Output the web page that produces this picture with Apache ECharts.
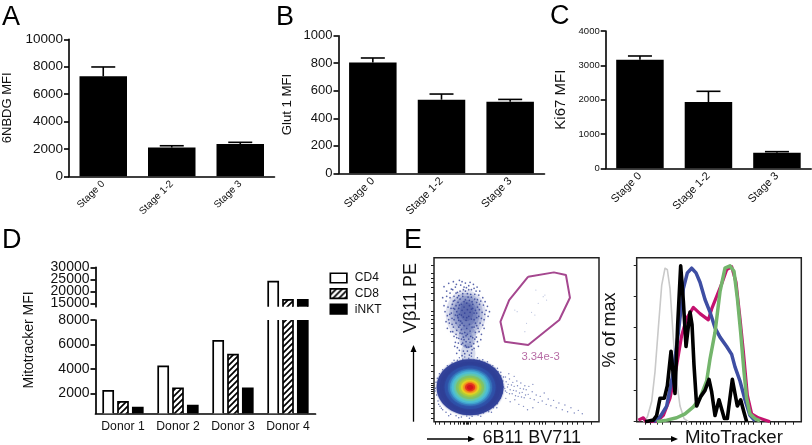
<!DOCTYPE html>
<html><head><meta charset="utf-8">
<style>html,body{margin:0;padding:0;background:#fff}#c{width:812px;height:445px}</style>
<script src="https://cdn.jsdelivr.net/npm/echarts@6/dist/echarts.min.js"></script>
</head><body><div id="c"></div>
<script>
// ---------- data ----------
var stages = ['Stage 0','Stage 1-2','Stage 3'];
var nbdgMean = [7300,2100,2350];
var nbdgUpper = [7980,2230,2480];
var glutMean = [806,535,520];
var glutUpper = [838,576,537];
var ki67Mean = [3165,1932,456];
var ki67Upper = [3272,2243,485];

var donors = ['Donor 1','Donor 2','Donor 3','Donor 4'];
var cd4 = [2190,4210,6290,24000];
var cd8 = [1290,2410,5160,16400];
var inkt = [820,1000,2410,16400];
var mitoLowTicks = [2000,4000,6000,8000];
var mitoHighTicks = [15000,20000,25000,30000];
var mitoHighLabelsA = [15000,25000];
var mitoHighLabelsB = [20000,30000];

// flow plot (channels on both axes)
var gate = [[282,435],[359,448],[395,440],[407,372],[375,305],[282,230],[212,240],[199,300],[225,365],[282,435]];
var gateLabel = [[319,195,'3.34e-3']];
var gateDots = [[332,380],[312,355],[302,320],[277,295],[242,335],[272,270],[327,375],[292,328],[249,330],[337,365],[305,395]];
var densityRings = [
 [108,103,100,84,'#33439a'],[108,103,90,76,'#2f3f96'],[108,103,76,65,'#2f50a8'],[108,103,66,56,'#3570b8'],
 [108,103,60,51,'#3f9ccd'],[108,103,55,47,'#4cbcd6'],[108,103,48,41,'#62c8ae'],[108,103,42,35,'#7fc26a'],[108,103,34,28,'#a8ca3c'],
 [108,103,27,22,'#e3d625'],[108,103,21,17,'#f49c20'],[108,103,15,12,'#e63a1e'],[108,103,9,7,'#d4141c']];
var cloudHaze = [
 [95,322,60,72,'rgba(70,90,170,0.16)'],[96,324,50,62,'rgba(60,80,165,0.2)'],[97,325,40,52,'rgba(55,75,160,0.24)'],[98,325,30,40,'rgba(50,70,155,0.26)'],[98,330,20,28,'rgba(45,60,150,0.28)'],
 [100,255,26,34,'rgba(60,80,165,0.24)'],[100,245,18,26,'rgba(60,80,165,0.22)'],[102,205,22,30,'rgba(70,90,170,0.2)']];
var cloudDots = [[30,405],[38,392],[44,415],[52,398],[48,372],[36,362],[58,420],[64,404],[70,388],[60,376],[55,352],[42,344],[33,330],[47,322],[62,338],[72,358],[80,410],[88,396],[76,424],[94,416],[104,408],[112,396],[100,384],[118,412],[126,392],[134,380],[122,368],[140,362],[148,350],[156,334],[144,328],[130,344],[116,352],[162,316],[150,306],[138,296],[128,312],[120,326],[112,338],[36,300],[46,296],[54,310],[64,320],[74,304],[58,284],[68,274],[78,290],[84,264],[74,250],[64,238],[70,222],[82,232],[90,246],[98,224],[108,238],[116,252],[124,268],[132,280],[120,284],[108,272],[96,258],[142,262],[150,280],[130,240],[114,216],[88,212],[60,256],[50,270],[40,280],[100,212],[26,372],[30,348],[40,318],[51,340],[56,396],[67,412],[84,420],[97,402],[108,418],[120,400],[129,404],[137,392],[146,372],[153,360],[160,346],[152,322],[166,330],[142,310],[135,270],[127,254],[119,234],[104,224],[76,214],[66,262],[54,292],[44,306],[70,318],[58,362],[48,386],[38,376],[128,358],[136,336],[146,290],[124,296],[73,236],[82,248],[92,204],[106,200],[112,206],[84,198],[120,220],[68,205],[62,226],[133,226],[140,246],
[66,348],[74,340],[82,352],[90,344],[98,356],[106,348],[114,360],[78,368],[86,376],[94,366],[102,374],[110,382],[70,372],[62,364],[68,330],[76,322],[84,334],[92,326],[100,336],[108,328],[116,340],[124,334],[72,312],[80,302],[88,314],[96,304],[104,316],[112,308],[120,306],[66,296],[74,284],[82,276],[90,288],[98,280],[106,292],[114,284],[92,268],[100,262],[110,256],[88,254],[78,266],[68,252],[96,240],[104,248],[86,236],[94,228],[112,226],[122,248],[78,392],[86,384],[94,392],[104,396],[90,404],[112,374],[122,382],[130,366],[136,352],[74,378],[66,386],[58,340],[52,326],[60,306],[128,326],[134,316],[128,288],[56,270],[82,320],[90,360],[98,312],[106,364],[76,350],[84,296]];
var rimDots = [[6,118],[4,100],[8,80],[3,92],[12,62],[18,46],[26,36],[36,28],[50,22],[66,18],[82,14],[98,17],[114,16],[132,20],[148,26],[164,30],[178,42],[190,54],[198,70],[204,86],[208,104],[206,122],[200,138],[192,150],[182,160],[168,170],[152,178],[136,184],[120,186],[104,190],[86,187],[70,184],[54,176],[40,168],[26,156],[16,144],[10,130],[92,194],[112,196],[76,192],[130,192],[60,184],[146,186],[160,180],[176,168],[190,160],[200,148],[208,134],[14,52],[22,40],[44,18],[74,12],[106,10],[140,16],[172,28],[188,42]];
var tailDots = [[212,100],[218,88],[222,112],[228,96],[234,84],[240,106],[246,92],[252,76],[258,100],[264,88],[270,72],[276,96],[282,82],[288,70],[294,90],[300,66],[306,80],[312,58],[318,76],[324,62],[330,86],[336,52],[342,68],[350,48],[358,64],[366,42],[374,56],[384,36],[392,50],[400,30],[410,42],[420,26],[432,34],[444,24],[216,120],[226,128],[236,118],[248,122],[260,116],[272,108],[284,106],[296,112],[215,70],[228,60],[242,66],[254,52],[268,46],[280,36],[296,42],[214,134],[224,144],[240,136],[214,92],[220,104],[226,84],[232,110],[238,94],[244,78],[250,108],[256,86],[262,74],[268,98],[274,80]];
var flowXTicks = [5,15,30,50,62,72,80,88,92,96,100,104,108,125,150,170,190,207,240,265,285,300,315,325,334,360,385,400,415,430,447,470];
var flowYTicks = [10,25,40,55,70,85,92,98,104,110,116,130,150,170,205,240,262,280,295,308,320,332,365,385,402,418,430,445,470];

// histogram overlays (channel, % of max)
var histGray = [[20,0],[32,3],[45,13],[55,32],[65,60],[75,87],[85,98],[92,97],[100,85],[110,53],[120,26],[130,10],[142,2],[155,0]];
var histMagenta = [[5,1],[20,2.5],[28,0],[60,0],[80,4],[100,15],[120,36],[135,55],[150,66],[170,73],[190,69],[215,65],[225,72],[240,80],[255,88],[270,97],[285,99],[298,89],[310,66],[320,45],[332,17],[345,5],[365,2.5],[400,0]];
var histBlue = [[50,0],[70,3],[90,10],[110,32],[125,57],[140,85],[152,95],[165,98],[178,95],[190,89],[205,78],[220,70],[235,60],[250,54],[270,48],[285,43],[295,35],[310,26],[325,14],[340,4],[355,0.5]];
var histGreen = [[60,0],[90,1],[120,2.5],[145,5],[170,9.5],[190,15],[210,26],[220,40],[235,57],[250,83],[265,98],[280,99.5],[292,96],[302,79],[312,57],[322,32],[330,15],[340,5],[355,2],[370,0.5]];
var histBlack = [[25,0],[50,1],[60,4],[70,15],[83,15],[92,23],[103,45],[115,18],[123,62],[132,99.5],[140,77],[148,48],[160,70],[166,62],[172,36],[180,10],[192,16],[205,20],[217,27],[225,19],[235,4],[247,14],[263,2],[272,2],[287,27],[302,10],[312,14],[322,6],[330,0]];
var histXTicks = [25,42,62,78,100,135,150,165,178,190,200,208,220,255,280,300,313,324,335,350,375,400,412,425,447,470];
var histYTicks = [0,20,40,60,80,100];

// ---------- helpers ----------
var FONT = '"Liberation Sans", Arial, sans-serif';
var INK = '#111';
function plain(v){ return String(v); }

var hatch = (function(){
  var s = 6, cv = document.createElement('canvas'); cv.width = s; cv.height = s;
  var g = cv.getContext('2d');
  g.fillStyle = '#fff'; g.fillRect(0,0,s,s);
  g.strokeStyle = '#000'; g.lineWidth = 1.7;
  g.beginPath();
  g.moveTo(-1,1); g.lineTo(1,-1);
  g.moveTo(-1,s+1); g.lineTo(s+1,-1);
  g.moveTo(s-1,s+1); g.lineTo(s+1,s-1);
  g.stroke();
  return {image: cv, repeat: 'repeat'};
})();

var grids = [], xAxes = [], yAxes = [], series = [], titles = [];

function errorSeries(idx, upper, means){
  series.push({
    type:'custom', xAxisIndex:idx, yAxisIndex:idx, silent:true, z:5,
    data: upper.map(function(u,i){ return [i, means[i], u]; }),
    encode:{x:0,y:[1,2]},
    renderItem:function(p,api){
      var a = api.coord([api.value(0), api.value(1)]), b = api.coord([api.value(0), api.value(2)]);
      var st = {stroke:'#000', lineWidth:1.6};
      return {type:'group', children:[
        {type:'line', shape:{x1:a[0],y1:a[1],x2:b[0],y2:b[1]}, style:st},
        {type:'line', shape:{x1:b[0]-12,y1:b[1],x2:b[0]+12,y2:b[1]}, style:st}
      ]};
    }
  });
}

function barPanel(cfg){
  var idx = grids.length;
  grids.push({left:cfg.left, top:cfg.top, width:cfg.width, height:cfg.height, containLabel:false});
  xAxes.push({gridIndex:idx, type:'category', data:stages,
    axisLine:{lineStyle:{color:'#000',width:1.6}},
    axisTick:{alignWithLabel:true,length:4.5,lineStyle:{color:'#000',width:1.6}},
    axisLabel:{rotate:45,fontFamily:FONT,fontSize:cfg.xFont,color:INK,margin:6,interval:0}});
  yAxes.push({gridIndex:idx, type:'value', min:0, max:cfg.max, interval:cfg.interval,
    name:cfg.name, nameLocation:'middle', nameGap:cfg.nameGap, nameRotate:90,
    nameTextStyle:{fontFamily:FONT,fontSize:cfg.nameFont,color:INK},
    splitLine:{show:false},
    axisLine:{show:true,lineStyle:{color:'#000',width:1.6}},
    axisTick:{show:true,length:5,lineStyle:{color:'#000',width:1.6}},
    axisLabel:{fontFamily:FONT,fontSize:cfg.yFont,color:INK,margin:6,formatter:plain}});
  series.push({type:'bar', xAxisIndex:idx, yAxisIndex:idx, data:cfg.means, barWidth:47.5,
    itemStyle:{color:'#000'}, silent:true});
  errorSeries(idx, cfg.upper, cfg.means);
}

barPanel({left:68.5,top:39.3,width:206,height:137,max:10000,interval:2000,means:nbdgMean,upper:nbdgUpper,name:'6NBDG MFI',nameGap:55,nameFont:13,yFont:13.5,xFont:10});
barPanel({left:338.5,top:35.7,width:206,height:137.6,max:1000,interval:200,means:glutMean,upper:glutUpper,name:'Glut 1 MFI',nameGap:45,nameFont:13.2,yFont:13,xFont:11});
barPanel({left:605.7,top:31,width:205.5,height:137.3,max:4000,interval:1000,means:ki67Mean,upper:ki67Upper,name:'Ki67 MFI',nameGap:37,nameFont:15,yFont:9.5,xFont:11});

// ----- panel D: split y axis, one grid per segment -----
var BAND_OFFSET = 14.8;
function donorBars(name, values, pos, fill, gi, axisMin, axisMax){
  series.push({
    type:'custom', name:name, xAxisIndex:gi, yAxisIndex:gi, silent:true,
    itemStyle:{color:fill, borderColor:'#000', borderWidth:1.7},
    data: values.map(function(v,i){ return [i,v]; }),
    encode:{x:0,y:1},
    renderItem:function(p,api){
      var val = api.value(1);
      if (val <= axisMin) return null;
      var c = api.coord([api.value(0), val]);
      var base = api.coord([api.value(0), axisMin])[1];
      var top = Math.max(c[1], p.coordSys.y);
      var clipped = val > axisMax;
      var x0 = c[0] + pos*BAND_OFFSET - 5, x1 = x0 + 10;
      var st = {fill:null,stroke:'#000',lineWidth:1.7};
      var kids = [{type:'rect', shape:{x:x0,y:top,width:10,height:base-top}, style:{fill:fill}}];
      if (clipped) {
        kids.push({type:'polyline', shape:{points:[[x0,top],[x0,base]]}, style:st});
        kids.push({type:'polyline', shape:{points:[[x1,top],[x1,base]]}, style:st});
      } else {
        kids.push({type:'polyline', shape:{points:[[x0,base],[x0,top],[x1,top],[x1,base]]}, style:st});
      }
      return {type:'group', children:kids};
    }
  });
}
function donorLabels(ticks){
  return {fontFamily:FONT,fontSize:14,color:INK,margin:6,customValues:ticks,hideOverlap:false,showMinLabel:true,showMaxLabel:true,formatter:plain};
}
function donorAxes(top, height, min, max, ticks, labels, showX){
  var gi = grids.length;
  grids.push({left:95.5, top:top, width:220, height:height});
  xAxes.push({gridIndex:gi, type:'category', data:donors, show:showX,
    axisLine:{lineStyle:{color:'#000',width:1.7}},
    axisTick:{alignWithLabel:true,length:4,lineStyle:{color:'#000',width:1.7}},
    axisLabel:{fontFamily:FONT,fontSize:12.2,color:INK,margin:7,interval:0}});
  yAxes.push({gridIndex:gi, type:'value', min:min, max:max, splitLine:{show:false},
    axisLine:{show:true,lineStyle:{color:'#000',width:1.7}},
    axisTick:{show:true,length:5,customValues:ticks,lineStyle:{color:'#000',width:1.7}},
    axisLabel:donorLabels(labels)});
  return gi;
}
var giHigh = donorAxes(267.3, 39.4, 13600, 30000, mitoHighTicks, mitoHighLabelsA, false);
var giLow = donorAxes(320, 93.3, 360, 8000, mitoLowTicks, mitoLowTicks, true);
[giHigh, giLow].forEach(function(gi){
  var lo = gi === giHigh ? 13600 : 360, hi = gi === giHigh ? 30000 : 8000;
  donorBars('CD4', cd4, -1, '#fff', gi, lo, hi);
  donorBars('CD8', cd8, 0, hatch, gi, lo, hi);
  donorBars('iNKT', inkt, 1, '#000', gi, lo, hi);
});

// ----- panel E left: flow plot -----
function boxAxes(left, width, xMax, yMax, xTicks, yTicks){
  var gi = grids.length;
  grids.push({left:left, top:257.7, width:width, height:164, show:true, borderColor:'#222', borderWidth:1.5, backgroundColor:'#fff'});
  xAxes.push({gridIndex:gi, type:'value', min:0, max:xMax, splitLine:{show:false},
    axisLine:{show:false}, axisLabel:{show:false},
    axisTick:{show:true,length:3,customValues:xTicks,lineStyle:{color:'#222',width:1}}});
  yAxes.push({gridIndex:gi, type:'value', min:0, max:yMax, splitLine:{show:false},
    axisLine:{show:false}, axisLabel:{show:false},
    axisTick:{show:true,length:3,customValues:yTicks,lineStyle:{color:'#222',width:1}}});
  return gi;
}
var giFlow = boxAxes(434, 165, 494, 492, flowXTicks, flowYTicks);
function ellipseSeries(rows, blur, z){
  series.push({type:'custom', xAxisIndex:giFlow, yAxisIndex:giFlow, silent:true, z:z,
    data: rows.map(function(r){ return r.slice(0,4); }),
    renderItem:function(p,api){
      var c = api.coord([api.value(0),api.value(1)]);
      var s = api.size([api.value(2),api.value(3)]);
      var col = rows[p.dataIndex][4];
      return {type:'ellipse', shape:{cx:c[0],cy:c[1],rx:s[0],ry:s[1]},
        style:{fill:col, shadowBlur:blur, shadowColor:col}};
    }});
}
ellipseSeries(cloudHaze, 10, 2);
function dots(data, size, color){
  series.push({type:'scatter', xAxisIndex:giFlow, yAxisIndex:giFlow, silent:true, z:3,
    data:data, symbolSize:size, itemStyle:{color:color}});
}
dots(cloudDots, 1.7, '#2f3f96');
dots(rimDots, 1.5, '#3c4d9f');
dots(tailDots, 1.4, '#5a68ad');
dots(gateDots, 1.2, '#a9b3d6');
ellipseSeries(densityRings, 2, 4);
series.push({type:'line', xAxisIndex:giFlow, yAxisIndex:giFlow, silent:true, z:6, data:gate, symbol:'none',
  lineStyle:{color:'#a5478f',width:2}});
series.push({type:'scatter', xAxisIndex:giFlow, yAxisIndex:giFlow, silent:true, z:6, data:gateLabel, symbolSize:0,
  label:{show:true,position:'inside',formatter:function(p){return p.value[2];},fontFamily:FONT,fontSize:11.3,color:'#a5478f'}});

// ----- panel E right: histogram -----
var giHist = boxAxes(636.7, 164.6, 494, 104.7, histXTicks, histYTicks);
[[histGray,'#c9c9c9',1.6],[histMagenta,'#c4126f',3.2],[histBlue,'#3e4ea3',3.5],[histGreen,'#74b56c',3.5],[histBlack,'#000',3.6]].forEach(function(h){
  series.push({type:'line', xAxisIndex:giHist, yAxisIndex:giHist, silent:true, data:h[0], symbol:'none',
    lineStyle:{color:h[1],width:h[2],join:'round'}});
});

// second label-only axis for the tightly packed upper segment of panel D
yAxes.push({gridIndex:giHigh, type:'value', min:13600, max:30000, position:'left', splitLine:{show:false},
  axisLine:{show:false}, axisTick:{show:false}, axisLabel:donorLabels(mitoHighLabelsB)});

// ----- panel letters -----
[['A',2,4],['B',276,4],['C',550,3],['D',2,227],['E',404,227]].forEach(function(t){
  titles.push({text:t[0], left:t[1], top:t[2], padding:0, textStyle:{fontFamily:FONT,fontWeight:'normal',fontSize:27,color:'#000'}});
});

// ----- free text and arrows -----
function vText(text, x, y, size){
  return {type:'text', x:x, y:y, rotation:Math.PI/2, silent:true,
    style:{text:text, fontFamily:FONT, fontSize:size, fill:INK, textAlign:'center', textVerticalAlign:'middle'}};
}
function hText(text, x, y, size){
  return {type:'text', x:x, y:y, silent:true,
    style:{text:text, fontFamily:FONT, fontSize:size, fill:INK, textAlign:'left', textVerticalAlign:'middle'}};
}
function hArrow(x1,x2,y){
  return [{type:'line', silent:true, shape:{x1:x1,y1:y,x2:x2-5,y2:y}, style:{stroke:'#000',lineWidth:1.3}},
    {type:'polygon', silent:true, shape:{points:[[x2,y],[x2-7,y-3],[x2-7,y+3]]}, style:{fill:'#000'}}];
}
function vArrow(x,y1,y2){
  return [{type:'line', silent:true, shape:{x1:x,y1:y1,x2:x,y2:y2+5}, style:{stroke:'#000',lineWidth:1.3}},
    {type:'polygon', silent:true, shape:{points:[[x,y2],[x-3,y2+7],[x+3,y2+7]]}, style:{fill:'#000'}}];
}
var gfx = [
  vText('Mitotracker MFI', 29, 340, 14),
  vText('V\u03B211 PE', 411.5, 298, 18),
  vText('% of max', 610, 330, 18),
  hText('6B11 BV711', 482.5, 438, 18),
  hText('MitoTracker', 685, 438, 18.7)
].concat(hArrow(427,475,439), hArrow(639,678,439), vArrow(413.5,421.7,345));

var option = {
  animation:false, backgroundColor:'#fff',
  title:titles, grid:grids, xAxis:xAxes, yAxis:yAxes, series:series,
  legend:{left:329.5, top:272, padding:0, orient:'vertical', itemWidth:16.5, itemHeight:9.5, itemGap:3.6, selectedMode:false,
    textStyle:{fontFamily:FONT,fontSize:12,color:INK,padding:[0,0,0,3]},
    data:[
      {name:'CD4', icon:'rect', itemStyle:{color:'#fff',borderColor:'#000',borderWidth:1.7}},
      {name:'CD8', icon:'rect', itemStyle:{color:hatch,borderColor:'#000',borderWidth:1.7}},
      {name:'iNKT', icon:'rect', itemStyle:{color:'#000',borderColor:'#000',borderWidth:1.7}}
    ]},
  graphic:gfx
};
var chart = echarts.init(document.getElementById('c'), null, {renderer:'canvas'});
chart.setOption(option);
</script></body></html>
